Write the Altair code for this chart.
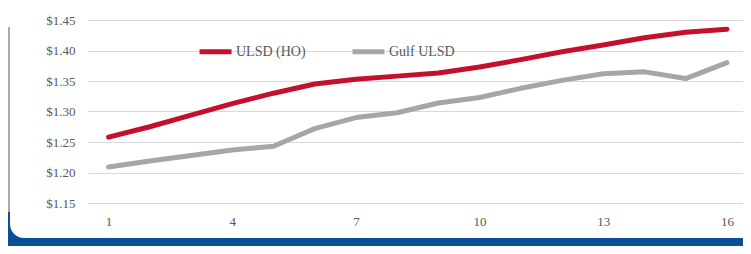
import altair as alt
import pandas as pd

days = list(range(1, 17))
ulsd_ho = [1.258, 1.275, 1.294, 1.313, 1.330, 1.345, 1.353, 1.358,
           1.363, 1.373, 1.385, 1.398, 1.409, 1.421, 1.430, 1.435]
gulf_ulsd = [1.209, 1.219, 1.228, 1.237, 1.243, 1.272, 1.290, 1.298,
             1.314, 1.323, 1.338, 1.351, 1.362, 1.365, 1.354, 1.380]
series_names = ["ULSD (HO)", "Gulf ULSD"]
series_colors = ["#c5102d", "#a6a6a6"]
x_ticks = [1, 4, 7, 10, 13, 16]
y_ticks = [1.15, 1.20, 1.25, 1.30, 1.35, 1.40, 1.45]

rows = []
for d, a, b in zip(days, ulsd_ho, gulf_ulsd):
    rows.append({"day": d, "price": a, "series": series_names[0]})
    rows.append({"day": d, "price": b, "series": series_names[1]})
df = pd.DataFrame(rows)

FONT = "Liberation Serif"
dummy = pd.DataFrame({"a": [0]})

# decorative frame (blue band, grey side strip, rounded white corner)
blue_bottom = alt.Chart(dummy).mark_rect(color="#0b4f98").encode(
    x=alt.value(-80), x2=alt.value(660), y=alt.value(218), y2=alt.value(230))
blue_left = alt.Chart(dummy).mark_rect(color="#0b4f98").encode(
    x=alt.value(-80), x2=alt.value(-62), y=alt.value(192), y2=alt.value(222))
gray = alt.Chart(dummy).mark_rect(color="#a7a9ac").encode(
    x=alt.value(-80), x2=alt.value(-78), y=alt.value(7), y2=alt.value(192))
white_corner = alt.Chart(dummy).mark_rect(color="white", cornerRadius=14).encode(
    x=alt.value(-78), x2=alt.value(-50), y=alt.value(160), y2=alt.value(218))

lines = alt.Chart(df).mark_line(strokeWidth=5, strokeCap="round", strokeJoin="round").encode(
    x=alt.X("day:Q",
            scale=alt.Scale(domain=[0.5, 16.39], nice=False, zero=False),
            axis=alt.Axis(values=x_ticks, grid=False, ticks=False, domain=False,
                          labelPadding=12, labelFont=FONT, labelFontSize=13,
                          labelColor="#595959", title=None)),
    y=alt.Y("price:Q",
            scale=alt.Scale(domain=[1.15, 1.45], nice=False, zero=False),
            axis=alt.Axis(values=y_ticks, format="$.2f", grid=True,
                          gridColor="#d9d9d9", gridWidth=1.2, domain=False,
                          ticks=False, labelPadding=13, labelFont=FONT,
                          labelFontSize=13, labelColor="#595959", title=None)),
    color=alt.Color("series:N",
                    scale=alt.Scale(domain=series_names, range=series_colors),
                    legend=alt.Legend(orient="none", legendX=109, legendY=13,
                                      direction="horizontal", title=None,
                                      symbolType="stroke", symbolStrokeWidth=5,
                                      symbolSize=1024, labelFont=FONT,
                                      labelFontSize=14, labelColor="#595959",
                                      columnPadding=36, labelOffset=2)),
    order="day:Q",
)

chart = alt.layer(blue_bottom, blue_left, gray, white_corner, lines).properties(
    width=655, height=183,
    padding={"left": 80, "top": 12, "right": 0, "bottom": 43},
    autosize=alt.AutoSizeParams(type="none"),
    background="white",
).configure_view(stroke=None)

chart.save("out.html", embed_options={"renderer": "svg", "actions": False})
